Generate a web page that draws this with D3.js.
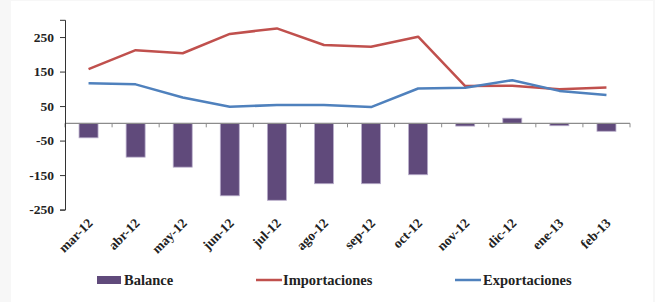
<!DOCTYPE html>
<html>
<head>
<meta charset="utf-8">
<script src="https://cdn.jsdelivr.net/npm/d3@7"></script>
<style>
  body { margin: 0; background: #f7f7f7; }
</style>
</head>
<body>
<div id="chart"></div>
<script>
var months = ["mar-12", "abr-12", "may-12", "jun-12", "jul-12", "ago-12", "sep-12", "oct-12", "nov-12", "dic-12", "ene-13", "feb-13"];
var balance = [-42, -98, -127, -210, -223, -175, -175, -149, -8, 15, -7, -23];
var importaciones = [157, 212, 203, 259, 275, 227, 222, 251, 108, 109, 99, 104];
var exportaciones = [116, 113, 75, 48, 53, 53, 47, 101, 103, 125, 94, 82];
var yTicks = [-250, -150, -50, 50, 150, 250];

var svgWidth = 655;
var svgHeight = 302;
var serif = "Liberation Serif";

var svg = d3.select("#chart")
    .append("svg")
    .attr("width", svgWidth)
    .attr("height", svgHeight);

// white panel
svg.append("rect")
    .attr("x", 11).attr("y", 1)
    .attr("width", 642).attr("height", 301)
    .attr("fill", "white");

var x = d3.scaleBand().domain(months).range([65, 630]);
var y = d3.scaleLinear().domain([-250, 300]).range([209.6, 19.8]);

var data = months.map(function(m, i) {
    return { month: m, bal: balance[i], imp: importaciones[i], exp: exportaciones[i] };
});

// bars
var barW = 19;
svg.selectAll("rect.bar")
    .data(data)
    .enter()
    .append("rect")
    .attr("class", "bar")
    .attr("x", d => x(d.month) + x.bandwidth() / 2 - barW / 2)
    .attr("y", d => y(Math.max(0, d.bal)))
    .attr("width", barW)
    .attr("height", d => Math.abs(y(d.bal) - y(0)))
    .attr("fill", "#604a7b")
    .attr("stroke", "#b9aecb")
    .attr("stroke-width", 0.8);

// x axis at zero
var xAxis = svg.append("g")
    .attr("transform", `translate(0,${y(0)})`);
xAxis.append("line")
    .attr("x1", 65).attr("x2", 630)
    .attr("stroke", "#8c8c8c").attr("stroke-width", 1.2);
xAxis.selectAll("line.tk")
    .data(months.concat(["end"]))
    .enter()
    .append("line")
    .attr("class", "tk")
    .attr("x1", (d, i) => 65 + i * x.bandwidth())
    .attr("x2", (d, i) => 65 + i * x.bandwidth())
    .attr("y1", 0).attr("y2", 4)
    .attr("stroke", "#8c8c8c");

// y axis
var leftAxis = d3.axisLeft(y)
    .tickValues(yTicks)
    .tickFormat(d => String(d))
    .tickSize(5)
    .tickPadding(6);
var yG = svg.append("g")
    .attr("transform", "translate(65,0)")
    .call(leftAxis);
yG.select(".domain").attr("stroke", "#333");
yG.selectAll(".tick line").attr("stroke", "#333");
yG.selectAll(".tick text")
    .style("font-family", serif)
    .style("font-weight", "bold")
    .style("font-size", "13.5px")
    .attr("fill", "#222");

// x labels
svg.selectAll("text.xl")
    .data(months)
    .enter()
    .append("text")
    .attr("class", "xl")
    .attr("transform", d => `translate(${x(d) + x.bandwidth() / 2 + 5},${224}) rotate(-45)`)
    .attr("text-anchor", "end")
    .style("font-family", serif)
    .style("font-weight", "bold")
    .style("font-size", "13.5px")
    .attr("fill", "#222")
    .text(d => d);

// lines
var lineImp = d3.line()
    .x(d => x(d.month) + x.bandwidth() / 2)
    .y(d => y(d.imp));
var lineExp = d3.line()
    .x(d => x(d.month) + x.bandwidth() / 2)
    .y(d => y(d.exp));

svg.append("path")
    .datum(data)
    .attr("d", lineImp)
    .attr("fill", "none")
    .attr("stroke", "#c0504d")
    .attr("stroke-width", 2.5)
    .attr("stroke-linejoin", "round");

svg.append("path")
    .datum(data)
    .attr("d", lineExp)
    .attr("fill", "none")
    .attr("stroke", "#4f81bd")
    .attr("stroke-width", 2.5)
    .attr("stroke-linejoin", "round");

// legend
var legY = 280;
var legend = [
    { name: "Balance", kind: "rect", color: "#604a7b", x: 97, tx: 124 },
    { name: "Importaciones", kind: "line", color: "#c0504d", x: 256, tx: 283 },
    { name: "Exportaciones", kind: "line", color: "#4f81bd", x: 455, tx: 483 }
];
legend.forEach(function(l) {
    if (l.kind == "rect") {
        svg.append("rect")
            .attr("x", l.x).attr("y", legY - 4)
            .attr("width", 24).attr("height", 8)
            .attr("fill", l.color);
    } else {
        svg.append("line")
            .attr("x1", l.x).attr("x2", l.x + 26)
            .attr("y1", legY).attr("y2", legY)
            .attr("stroke", l.color).attr("stroke-width", 2.5);
    }
    svg.append("text")
        .attr("x", l.tx).attr("y", legY + 5)
        .style("font-family", serif)
        .style("font-weight", "bold")
        .style("font-size", "14.5px")
        .attr("fill", "#222")
        .text(l.name);
});
</script>
</body>
</html>
